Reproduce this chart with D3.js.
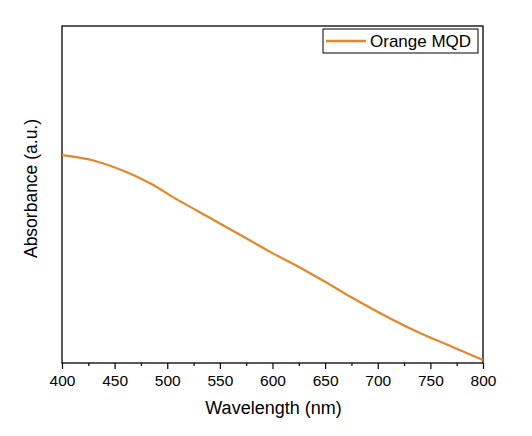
<!DOCTYPE html>
<html>
<head>
<meta charset="utf-8">
<script src="https://cdn.jsdelivr.net/npm/d3@7"></script>
<style>
  body { margin: 0; background: #fff; }
  text { font-family: "Liberation Sans", Arial, sans-serif; }
</style>
</head>
<body>
<script>
// Absorbance spectrum (arbitrary units)
var wavelength = [400, 430, 460, 485, 505, 530, 550, 575, 600, 625, 650, 675, 710, 740, 770, 800];
var absorbance = [0.617, 0.601, 0.568, 0.531, 0.493, 0.449, 0.414, 0.370, 0.326, 0.285, 0.241, 0.195, 0.135, 0.089, 0.049, 0.009];
var xTicks = [400, 450, 500, 550, 600, 650, 700, 750, 800];
var xMinor = [425, 475, 525, 575, 625, 675, 725, 775];
var seriesName = "Orange MQD";

var data = wavelength.map((w, i) => ({x: w, y: absorbance[i]}));

var W = 532, H = 436;
var margin = {top: 26, right: 49, bottom: 73, left: 62},
    width = W - margin.left - margin.right,
    height = H - margin.top - margin.bottom;

var svg = d3.select("body").append("svg")
    .attr("width", W)
    .attr("height", H);

var g = svg.append("g")
    .attr("transform", `translate(${margin.left},${margin.top})`);

var xScale = d3.scaleLinear().domain([400, 800]).range([0, width]);
var yScale = d3.scaleLinear().domain([0, 1]).range([height, 0]);

// frame
g.append("rect")
    .attr("width", width)
    .attr("height", height)
    .attr("fill", "none")
    .attr("stroke", "#000")
    .attr("stroke-width", 1.3);

// x axis, major + minor ticks
var xAxis = g.append("g")
    .attr("transform", `translate(0,${height})`)
    .call(d3.axisBottom(xScale).tickValues(xTicks).tickSize(6).tickPadding(6).tickFormat(d3.format("d")));
xAxis.select(".domain").remove();
xAxis.selectAll("line").attr("stroke-width", 1.2);
xAxis.selectAll("text").attr("font-size", 15.5).attr("fill", "#000")
    .style("font-family", '"Liberation Sans", Arial, sans-serif');

var xAxisMinor = g.append("g")
    .attr("transform", `translate(0,${height})`)
    .call(d3.axisBottom(xScale).tickValues(xMinor).tickSize(3).tickFormat(""));
xAxisMinor.select(".domain").remove();
xAxisMinor.selectAll("line").attr("stroke-width", 1.2);

// line
var line = d3.line()
    .x(d => xScale(d.x))
    .y(d => yScale(d.y))
    .curve(d3.curveCatmullRom);

g.append("path")
    .datum(data)
    .attr("d", line)
    .attr("fill", "none")
    .attr("stroke", "#E4862A")
    .attr("stroke-width", 2.2);

// axis titles
g.append("text")
    .attr("x", width / 2 + 1)
    .attr("y", height + 51)
    .attr("text-anchor", "middle")
    .attr("font-size", 18)
    .text("Wavelength (nm)");

g.append("text")
    .attr("transform", "rotate(-90)")
    .attr("x", -height / 2 + 6)
    .attr("y", -25)
    .attr("text-anchor", "middle")
    .attr("font-size", 17.5)
    .text("Absorbance (a.u.)");

// legend
var legend = g.append("g")
    .attr("transform", `translate(${width - 160},3)`);
legend.append("rect")
    .attr("width", 155)
    .attr("height", 24)
    .attr("fill", "#fff")
    .attr("stroke", "#000")
    .attr("stroke-width", 1);
legend.append("line")
    .attr("x1", 3).attr("x2", 43)
    .attr("y1", 12).attr("y2", 12)
    .attr("stroke", "#E4862A")
    .attr("stroke-width", 2.5);
legend.append("text")
    .attr("x", 47)
    .attr("y", 18)
    .attr("font-size", 17)
    .text(seriesName);
</script>
</body>
</html>
